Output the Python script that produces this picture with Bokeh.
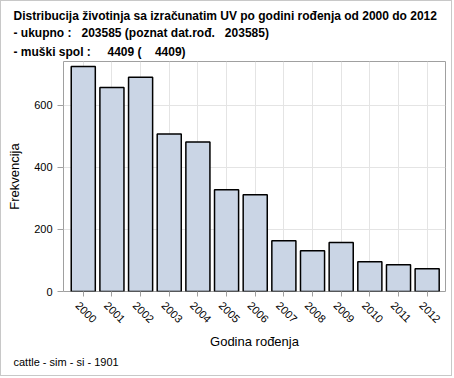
import math
from bokeh.plotting import figure
from bokeh.models import Range1d, FixedTicker, Title, LinearAxis
from bokeh.embed import file_html
from bokeh.resources import INLINE

years = [2000, 2001, 2002, 2003, 2004, 2005, 2006, 2007, 2008, 2009, 2010, 2011, 2012]
counts = [724, 656, 689, 507, 481, 327, 311, 163, 131, 158, 96, 86, 73]
y_ticks = [0, 200, 400, 600]
title_lines = [
    "Distribucija životinja sa izračunatim UV po godini rođenja od 2000 do 2012",
    "- ukupno :   203585 (poznat dat.rođ.   203585)",
    "- muški spol :     4409 (    4409)",
]
footnote = "cattle - sim - si - 1901"
x_label = "Godina rođenja"
y_label = "Frekvencija"

FONT = "Liberation Sans"
NBSP = "\u00a0"
LABEL_SHIFT = 0.2  # rotated tick labels are centred under their ticks

p = figure(width=452, height=376, output_backend="svg", toolbar_location=None,
           x_range=Range1d(years[0] - 0.69, years[-1] + 0.64),
           y_range=Range1d(0, 740),
           min_border_left=62, min_border_right=8, min_border_top=60, min_border_bottom=86)
p.styles = {"border": "1px solid #c8c8c8"}
p.background_fill_color = "white"
p.border_fill_color = "white"
p.outline_line_color = "#a0a0a0"
p.outline_line_width = 1

p.vbar(x=years, top=counts, bottom=0, width=0.84, fill_color="#cad5e5",
       line_color="black", line_width=1.5)

for ax in (p.xaxis[0], p.yaxis[0]):
    ax.axis_line_color = None
    ax.major_tick_line_color = "#a0a0a0"
    ax.major_tick_in = 0
    ax.major_tick_out = 5
    ax.minor_tick_line_color = None
    ax.major_label_text_font = FONT
    ax.major_label_text_font_size = "11px"
    ax.major_label_text_color = "black"
    ax.axis_label_text_font = FONT
    ax.axis_label_text_font_size = "13px"
    ax.axis_label_text_font_style = "normal"
    ax.axis_label_text_color = "black"

p.yaxis.major_tick_out = 6
p.yaxis.ticker = FixedTicker(ticks=y_ticks)
p.yaxis.axis_label = y_label
p.yaxis.axis_label_standoff = 9

# main x axis: ticks only
p.xaxis.ticker = FixedTicker(ticks=years)
p.xaxis.major_label_text_color = None
p.xaxis.major_label_standoff = 0

# second x axis: rotated year labels, centred under the ticks
label_pos = [round(y - LABEL_SHIFT, 3) for y in years]
ax2 = LinearAxis(ticker=FixedTicker(ticks=label_pos),
                 major_label_overrides={pos: str(y) for pos, y in zip(label_pos, years)},
                 major_label_orientation=-math.pi / 4,
                 major_label_standoff=7,
                 major_tick_in=0, major_tick_out=0, major_tick_line_color=None,
                 minor_tick_line_color=None, axis_line_color=None,
                 major_label_text_font=FONT, major_label_text_font_size="11px",
                 major_label_text_color="black",
                 axis_label=x_label, axis_label_standoff=5,
                 axis_label_text_font=FONT, axis_label_text_font_size="13px",
                 axis_label_text_font_style="normal", axis_label_text_color="black")
p.add_layout(ax2, "below")

p.xgrid.ticker = FixedTicker(ticks=years)
p.grid.grid_line_color = "#e4e4e4"
p.grid.grid_line_width = 1

ft = Title(text=footnote, align="left", offset=-50, text_font=FONT,
           text_font_size="11px", text_font_style="normal", text_color="black",
           standoff=2)
p.add_layout(ft, "below")

standoffs = [1, 1, 5]
for line, so in reversed(list(zip(title_lines, standoffs))):
    t = Title(text=line.replace(" ", NBSP), align="left", offset=-50, text_font=FONT,
              text_font_size="12px", text_font_style="bold", text_color="black",
              standoff=so)
    p.add_layout(t, "above")

open("out.html", "w").write(file_html(p, INLINE))
